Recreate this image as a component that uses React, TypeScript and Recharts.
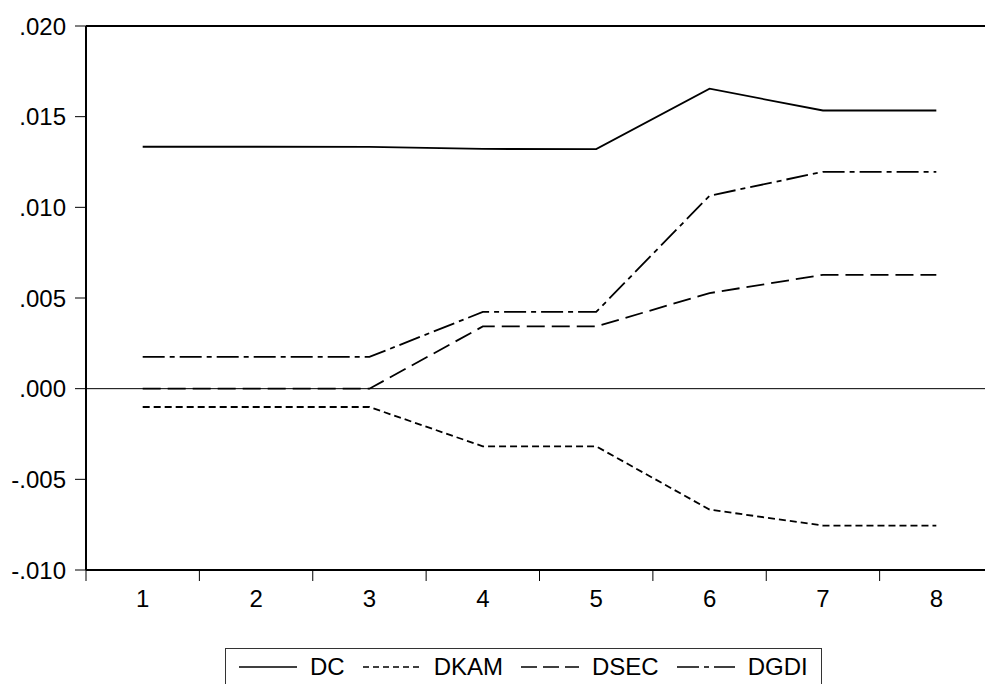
import React from 'react';
import { LineChart, Line, XAxis, YAxis, ReferenceLine } from 'recharts';

const periods = [1, 2, 3, 4, 5, 6, 7, 8];
const dc = [0.01334, 0.01334, 0.01333, 0.01322, 0.01321, 0.01654, 0.01534, 0.01534];
const dkam = [-0.00101, -0.00101, -0.00101, -0.00318, -0.00318, -0.00667, -0.00755, -0.00755];
const dsec = [0.0, 0.0, 0.0, 0.00343, 0.00343, 0.00527, 0.00628, 0.00628];
const dgdi = [0.00175, 0.00175, 0.00175, 0.00423, 0.00423, 0.01064, 0.01196, 0.01196];

const yTicks = [-0.01, -0.005, 0, 0.005, 0.01, 0.015, 0.02];
// integer ticks carry the labels, half ticks carry the little marks
const xTicks = [0.5, 1, 1.5, 2, 2.5, 3, 3.5, 4, 4.5, 5, 5.5, 6, 6.5, 7, 7.5, 8, 8.5];

const series = [
  { key: 'DC', dash: undefined, legendDash: undefined },
  { key: 'DKAM', dash: '7 4', legendDash: '6 4' },
  { key: 'DSEC', dash: '18 7', legendDash: '16 6' },
  { key: 'DGDI', dash: '22 5 5 5', legendDash: '22 5 5 5' },
];

const data = periods.map((p, i) => ({
  period: p,
  DC: dc[i],
  DKAM: dkam[i],
  DSEC: dsec[i],
  DGDI: dgdi[i],
}));

const FONT = '"Liberation Sans", Arial, sans-serif';

const fmtY = (v: number) => v.toFixed(3).replace(/^(-?)0\./, '$1.');

function XTick(props: any) {
  const { x, y, payload } = props;
  const v = payload.value as number;
  if (Number.isInteger(v)) {
    return (
      <text x={x} y={y + 28} textAnchor="middle" dominantBaseline="central" fontSize={24} fontFamily={FONT} fill="#000">
        {v}
      </text>
    );
  }
  return <line x1={x} y1={y} x2={x} y2={y + 11} stroke="#000" strokeWidth={1} />;
}

function ChartLegend() {
  return (
    <div
      style={{
        position: 'absolute',
        left: 225,
        top: 648,
        height: 60,
        border: '1.5px solid #333',
        borderBottom: 'none',
        display: 'flex',
        alignItems: 'flex-start',
        paddingTop: 6,
        paddingLeft: 13,
        paddingRight: 13,
        fontFamily: FONT,
        fontSize: 24,
        color: '#000',
      }}
    >
      {series.map((s, i) => (
        <div key={s.key} style={{ display: 'flex', alignItems: 'center', height: 24, marginRight: i < series.length - 1 ? 18 : 0 }}>
          <svg width={58} height={24} style={{ marginRight: 13 }}>
            <line x1={0} y1={12} x2={58} y2={12} stroke="#000" strokeWidth={1.6} strokeDasharray={s.legendDash} />
          </svg>
          <span style={{ lineHeight: '24px' }}>{s.key}</span>
        </div>
      ))}
    </div>
  );
}

export default function App() {
  return (
    <div style={{ position: 'absolute', left: 0, top: 0, width: 985, height: 684, overflow: 'hidden', background: '#fff' }}>
      <LineChart width={1000} height={684} data={data} margin={{ top: 26, right: 7, bottom: 0, left: 0 }}>
        <XAxis
          dataKey="period"
          type="number"
          domain={[0.5, 8.5]}
          ticks={xTicks}
          interval={0}
          tick={<XTick />}
          tickLine={false}
          tickSize={0}
          tickMargin={0}
          height={114}
          axisLine={{ stroke: '#000', strokeWidth: 2 }}
        />
        <YAxis
          type="number"
          domain={[-0.01, 0.02]}
          ticks={yTicks}
          interval={0}
          width={86}
          tickSize={11}
          tickMargin={9}
          tickFormatter={fmtY}
          tick={{ fontSize: 24, fontFamily: FONT, fill: '#000' }}
          tickLine={{ stroke: '#000', strokeWidth: 1 }}
          axisLine={{ stroke: '#000', strokeWidth: 2 }}
        />
        {/* frame top edge */}
        <ReferenceLine y={0.02} stroke="#000" strokeWidth={2} />
        <ReferenceLine y={0} stroke="#000" strokeWidth={1} />
        {series.map((s) => (
          <Line
            key={s.key}
            dataKey={s.key}
            type="linear"
            stroke="#000"
            strokeWidth={1.8}
            strokeDasharray={s.dash}
            dot={false}
            activeDot={false}
            isAnimationActive={false}
          />
        ))}
      </LineChart>
      <ChartLegend />
    </div>
  );
}
